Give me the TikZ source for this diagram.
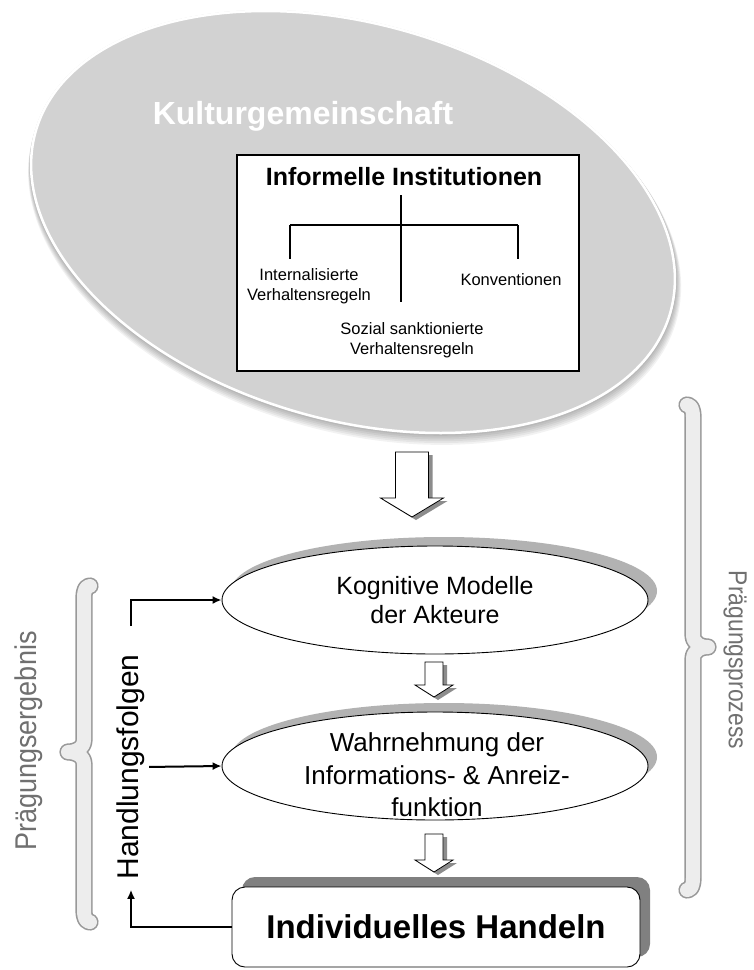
\documentclass[tikz,border=0pt]{standalone}
\usepackage{fontspec}
\setmainfont{Liberation Sans}
\usepackage{graphicx}
\usetikzlibrary{shapes.geometric,shadows,arrows.meta}

\definecolor{cloudfill}{RGB}{210,210,210}
\definecolor{bandgray}{RGB}{178,178,178}
\definecolor{boxshade}{RGB}{128,128,128}
\definecolor{labelgray}{RGB}{112,112,112}

% hollow block arrow: centre x, top y, head y, tip y, shaft half width, head half width
\newcommand\hollowarrow[6]{%
  \fill[black!45,shift={(4,3)}] (#1-#5,#2) -- (#1+#5,#2) -- (#1+#5,#3) -- (#1+#6,#3)
     -- (#1,#4) -- (#1-#6,#3) -- (#1-#5,#3) -- cycle;
  \draw[fill=white,line width=0.8pt] (#1-#5,#2) -- (#1+#5,#2) -- (#1+#5,#3) -- (#1+#6,#3)
     -- (#1,#4) -- (#1-#6,#3) -- (#1-#5,#3) -- cycle;}

\tikzset{
  oval/.style={ellipse, draw, line width=0.9pt, fill=white, minimum width=426pt,
    minimum height=108pt, inner sep=0pt,
    drop shadow={shadow xshift=9pt, shadow yshift=9pt, fill=bandgray, opacity=1}},
  actbox/.style={rectangle, rounded corners=13pt, draw, line width=0.9pt, fill=white,
    minimum width=408pt, minimum height=80pt, inner sep=0pt,
    drop shadow={shadow xshift=10pt, shadow yshift=10pt, fill=boxshade, opacity=1}},
  small/.style={align=center, inner sep=0pt, font=\fontsize{16.5}{19.5}\selectfont},
  tree/.style={line width=1.1pt},
  feedback/.style={line width=2pt, -{Latex[length=9pt,width=8pt]}},
  bracetube/.style={draw=black!40, double=black!7, double distance=14pt, line width=1.6pt,
    line cap=round, line join=round},
  sidelabel/.style={text=labelgray, inner sep=0pt},
}

\begin{document}
\begin{tikzpicture}[x=1pt,y=-1pt]
\useasboundingbox (0,0) rectangle (753,970);
\fill[white] (0,0) rectangle (753,970);

% cultural community: tilted grey ellipse with soft shadow and light rim
\begin{scope}[rotate around={-16:(353,222)}]
  \foreach \k in {1,...,6}
    \fill[black,opacity=0.05] (353+\k*0.6,222+\k*1.1) ellipse [x radius=331+\k*0.6, y radius=199+\k*0.6];
  \fill[cloudfill] (353,222) ellipse [x radius=331, y radius=199];
  \draw[white,line width=2.5pt] (353,222) ellipse [x radius=330, y radius=198];
\end{scope}
\node[anchor=base, text=white, inner sep=0pt, font=\bfseries\fontsize{32}{38}\selectfont]
  (kult) at (303,124) {Kulturgemeinschaft};

% informal institutions box
\node[rectangle, draw, line width=1.2pt, fill=white, minimum width=342pt, minimum height=216pt,
  inner sep=0pt] (inst) at (408,263) {};
\node[anchor=base, inner sep=0pt, font=\bfseries\fontsize{25}{30}\selectfont]
  (tit) at (404,185) {Informelle Institutionen};
\coordinate (jtop) at (401,195);
\coordinate (jbot) at (401,302);
\coordinate (jl) at (290,225);
\coordinate (jr) at (518,225);
\coordinate (jlb) at (290,259);
\coordinate (jrb) at (518,259);
\draw[tree] (jtop) -- (jbot);
\draw[tree] (jl) -- (jr);
\draw[tree] (jl) -- (jlb);
\draw[tree] (jr) -- (jrb);
\node[small] (intl) at (309,286) {Internalisierte\\Verhaltensregeln};
\node[small] (konv) at (511,280) {Konventionen};
\node[small] (sozl) at (412,340) {Sozial sanktionierte\\Verhaltensregeln};

% process chain
\hollowarrow{412}{452}{498}{517}{16.5}{31.5}
\node[oval, align=center, font=\fontsize{25}{29}\selectfont] (kog) at (435,600)
  {Kognitive Modelle\\der Akteure};
\hollowarrow{434}{662}{685}{697}{9}{19}
\node[oval] (wahr) at (435,766) {};
\node[align=center, inner sep=0pt, font=\fontsize{26}{32.5}\selectfont] (wahrtext) at (437,775)
  {Wahrnehmung der\\Informations- \& Anreiz-\\funktion};
\hollowarrow{434}{834}{860}{872}{9}{19}
\node[actbox, font=\bfseries\fontsize{33}{40}\selectfont] (ind) at (436,927) {Individuelles Handeln};

% feedback loop
\node[rotate=90, inner sep=0pt, font=\fontsize{30}{36}\selectfont] (hf) at (131,767) {Handlungsfolgen};
\draw[feedback, shorten >=10pt] (ind.west) -| (hf.west);
\draw[feedback, shorten <=28pt] (hf.east) |- (kog.west);
\draw[feedback, shorten <=4pt] (hf.south) -- (wahr.west);

% braces and side labels
\draw[bracetube] (90,586) .. controls (86,586) and (84,590) .. (84,598) -- (84,740)
  .. controls (84,748) and (76,752) .. (68,752) .. controls (76,752) and (84,756) .. (84,764)
  -- (84,910) .. controls (84,918) and (86,922) .. (90,922);
\node[sidelabel, rotate=90, font=\fontsize{30}{36}\selectfont] (perg) at (29,741)
  {\scalebox{0.9}[1]{Prägungsergebnis}};

\draw[bracetube] (687,405) .. controls (691,405) and (693,409) .. (693,417) -- (693,635)
  .. controls (693,643) and (700,647) .. (708,647) .. controls (700,647) and (693,651) .. (693,659)
  -- (693,878) .. controls (693,886) and (691,890) .. (687,890);
\node[sidelabel, rotate=-90, font=\fontsize{26}{32}\selectfont] (pproz) at (735,660)
  {\scalebox{0.88}[1]{Prägungsprozess}};
\end{tikzpicture}
\end{document}
